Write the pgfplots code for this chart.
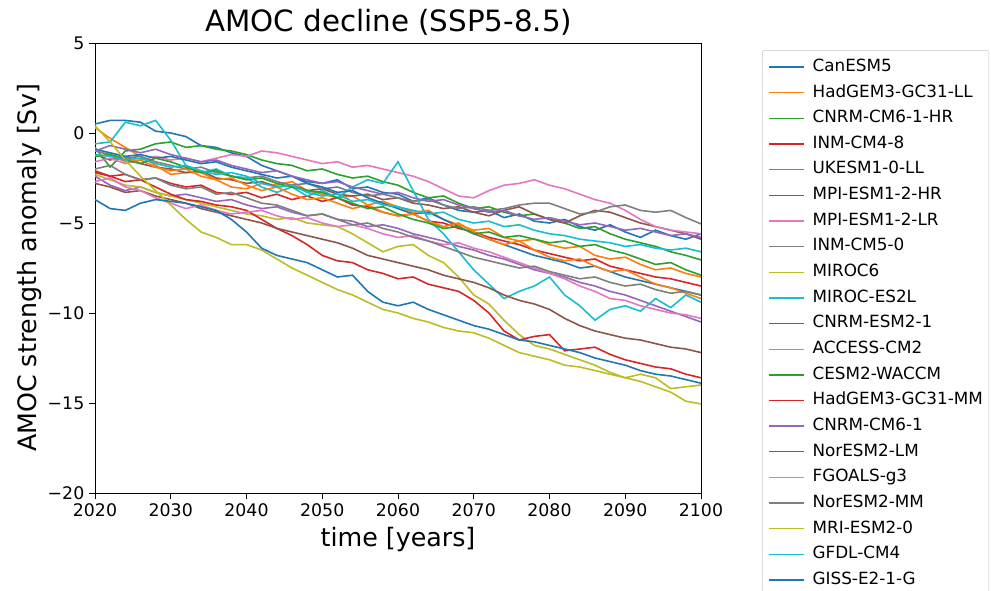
\documentclass[border=0pt]{standalone}
\usepackage{fontspec}
\setmainfont{DejaVu Sans}
\usepackage{pgfplots}
\usepackage{pgfplotstable}
\pgfplotsset{compat=1.18}
\definecolor{c0}{HTML}{1F77B4}
\definecolor{c1}{HTML}{FF7F0E}
\definecolor{c2}{HTML}{2CA02C}
\definecolor{c3}{HTML}{D62728}
\definecolor{c4}{HTML}{9467BD}
\definecolor{c5}{HTML}{8C564B}
\definecolor{c6}{HTML}{E377C2}
\definecolor{c7}{HTML}{7F7F7F}
\definecolor{c8}{HTML}{BCBD22}
\definecolor{c9}{HTML}{17BECF}
\pgfplotstableread{
year s1 s2 s3 s4 s5 s6 s7 s8 s9 s10 s11 s12 s13 s14 s15 s16 s17 s18 s19 s20 s21
2020 0.5 0.3 -0.8 -2.2 -2.4 -1.2 -1.6 -1.0 -2.3 -0.6 -0.9 -1.3 -1.3 -2.1 -1.0 -2.8 -2.7 -2.0 0.4 -1.2 -3.7
2022 0.7 -0.3 -1.9 -2.4 -2.9 -1.5 -1.4 -1.2 -2.6 -0.5 -1.1 -1.2 -1.2 -2.4 -0.7 -3.0 -2.5 -1.8 -0.5 -1.3 -4.2
2024 0.7 -0.8 -1.0 -2.3 -3.2 -1.3 -1.7 -1.4 -2.9 0.6 -1.3 -1.6 -1.5 -2.7 -0.9 -3.3 -3.0 -2.3 -1.5 -1.5 -4.3
2026 0.6 -1.3 -0.9 -2.6 -3.0 -1.7 -1.5 -1.3 -3.0 0.4 -1.2 -1.5 -1.7 -2.6 -1.1 -3.2 -3.2 -2.6 -2.4 -1.4 -3.9
2028 0.1 -1.8 -0.6 -2.5 -3.3 -1.9 -1.3 -1.6 -3.3 0.7 -1.4 -1.9 -1.4 -3.0 -0.9 -3.5 -3.6 -2.5 -3.2 -1.7 -3.7
2030 0.0 -2.3 -0.5 -2.8 -3.5 -2.0 -1.5 -1.8 -3.5 -0.4 -1.3 -2.1 -1.6 -3.4 -1.2 -3.7 -3.9 -2.9 -4.0 -1.9 -3.8
2032 -0.2 -2.2 -0.8 -3.0 -3.4 -2.2 -1.4 -2.0 -3.7 -1.8 -1.5 -2.0 -1.9 -3.7 -1.4 -3.9 -4.2 -3.1 -4.8 -1.8 -3.9
2034 -0.7 -2.2 -0.7 -2.9 -3.6 -2.1 -1.6 -1.9 -3.9 -2.2 -1.7 -2.4 -2.2 -3.8 -1.6 -4.2 -4.0 -3.0 -5.5 -2.1 -4.1
2036 -0.8 -2.6 -0.9 -3.3 -3.8 -2.5 -1.4 -2.2 -4.1 -2.0 -1.6 -2.6 -2.1 -4.0 -1.5 -4.4 -4.3 -3.4 -5.8 -2.3 -4.3
2038 -1.1 -3.0 -1.0 -3.4 -3.7 -2.6 -1.2 -2.4 -4.3 -2.4 -1.9 -2.5 -2.4 -4.1 -1.8 -4.6 -4.5 -3.3 -6.2 -2.2 -4.8
2040 -1.3 -3.1 -1.2 -3.3 -4.0 -2.8 -1.3 -2.5 -4.5 -2.5 -2.1 -2.9 -2.6 -4.3 -2.0 -4.8 -4.4 -3.6 -6.2 -2.4 -5.5
2042 -1.8 -2.8 -1.5 -3.6 -4.2 -2.7 -1.0 -2.4 -4.6 -3.0 -2.3 -3.2 -2.5 -4.8 -2.2 -5.0 -4.3 -3.9 -6.5 -2.8 -6.4
2044 -2.1 -2.9 -1.7 -3.4 -4.1 -3.0 -1.1 -2.7 -4.8 -3.3 -2.5 -3.0 -2.8 -5.3 -2.1 -5.3 -4.6 -4.0 -7.0 -3.0 -6.8
2046 -2.4 -2.7 -1.8 -3.7 -4.4 -2.9 -1.3 -2.9 -4.7 -3.0 -2.4 -3.4 -3.0 -5.7 -2.4 -5.5 -4.8 -4.3 -7.5 -2.9 -7.0
2048 -2.7 -3.2 -2.1 -3.5 -4.6 -3.2 -1.5 -2.8 -5.0 -3.5 -2.8 -3.7 -3.2 -6.2 -2.6 -5.7 -4.7 -4.6 -7.9 -3.3 -7.2
2050 -2.8 -3.4 -2.0 -3.8 -4.5 -3.1 -1.7 -3.1 -5.1 -3.2 -3.0 -3.6 -3.3 -6.8 -2.8 -5.9 -5.0 -4.5 -8.3 -3.5 -7.6
2052 -2.6 -3.6 -2.3 -3.6 -4.8 -3.4 -1.6 -3.0 -5.2 -3.6 -3.3 -3.9 -3.6 -7.1 -2.7 -6.1 -5.2 -4.8 -8.7 -3.4 -8.0
2054 -3.1 -3.5 -2.5 -4.0 -4.9 -3.5 -1.9 -3.3 -5.6 -3.0 -3.2 -4.2 -3.9 -7.2 -3.0 -6.4 -5.1 -5.1 -9.0 -3.8 -7.9
2056 -3.0 -4.0 -2.4 -4.1 -5.2 -3.4 -1.8 -3.5 -6.1 -2.6 -3.6 -4.0 -4.2 -7.6 -3.2 -6.8 -5.3 -5.0 -9.4 -3.7 -8.8
2058 -3.3 -3.8 -2.7 -4.4 -5.1 -3.7 -2.0 -3.4 -6.6 -2.8 -3.9 -4.4 -4.1 -7.8 -3.4 -7.0 -5.6 -5.3 -9.8 -4.0 -9.4
2060 -3.4 -4.1 -2.9 -4.6 -5.3 -3.6 -2.2 -3.6 -6.3 -1.6 -4.2 -4.6 -4.5 -8.1 -3.3 -7.2 -5.8 -5.5 -10.0 -4.1 -9.6
2062 -3.8 -4.4 -3.3 -4.5 -5.6 -3.9 -2.4 -3.8 -6.2 -3.2 -4.5 -4.5 -4.8 -8.0 -3.6 -7.4 -5.7 -5.8 -10.3 -4.3 -9.4
2064 -3.6 -4.3 -3.6 -4.9 -5.8 -4.0 -2.7 -3.7 -6.8 -4.8 -4.4 -4.9 -5.0 -8.4 -3.8 -7.6 -6.0 -6.0 -10.5 -4.5 -9.8
2066 -4.0 -4.8 -3.5 -5.0 -6.0 -4.2 -3.1 -4.0 -7.2 -5.6 -4.8 -5.2 -5.3 -8.6 -3.7 -7.9 -6.2 -6.3 -10.8 -4.4 -10.1
2068 -4.3 -5.1 -3.9 -5.3 -6.3 -4.1 -3.5 -4.2 -8.0 -6.6 -5.2 -5.0 -5.2 -8.8 -4.0 -8.1 -6.1 -6.6 -11.0 -4.8 -10.4
2070 -4.4 -5.4 -4.2 -5.5 -6.5 -4.4 -3.6 -4.1 -9.0 -7.6 -5.6 -5.5 -5.6 -9.3 -4.2 -8.3 -6.4 -6.9 -11.1 -5.0 -10.7
2072 -4.3 -5.3 -4.1 -5.8 -6.8 -4.6 -3.2 -4.3 -9.5 -8.4 -5.9 -5.9 -5.5 -10.0 -4.4 -8.6 -6.6 -7.1 -11.4 -4.9 -10.9
2074 -4.7 -5.8 -4.4 -6.0 -7.0 -4.3 -2.9 -4.2 -10.4 -9.2 -6.2 -6.2 -5.8 -11.0 -4.3 -9.0 -6.9 -7.3 -11.8 -5.2 -11.2
2076 -4.5 -6.0 -4.6 -6.2 -7.3 -4.1 -2.8 -4.0 -11.2 -8.8 -6.5 -6.0 -5.7 -11.5 -4.6 -9.3 -7.2 -7.5 -12.2 -5.1 -11.5
2078 -4.9 -5.9 -4.5 -6.5 -7.6 -4.5 -2.6 -3.9 -11.8 -8.5 -6.8 -6.5 -5.9 -11.3 -4.8 -9.5 -7.5 -7.4 -12.4 -5.4 -11.6
2080 -5.0 -6.2 -4.8 -6.7 -7.8 -4.8 -2.9 -3.9 -12.0 -8.0 -7.0 -6.9 -6.1 -11.2 -4.7 -9.8 -7.8 -7.7 -12.6 -5.6 -11.8
2082 -4.8 -6.4 -5.0 -6.9 -8.0 -5.0 -3.1 -4.2 -12.3 -9.0 -7.2 -7.1 -6.0 -12.1 -4.9 -10.3 -8.1 -7.9 -12.9 -5.7 -12.0
2084 -5.2 -6.3 -5.3 -7.1 -8.3 -4.6 -3.4 -4.5 -12.6 -9.6 -7.5 -7.0 -6.3 -12.0 -5.1 -10.7 -8.5 -8.1 -13.0 -5.9 -12.2
2086 -5.4 -6.8 -5.2 -7.0 -8.5 -4.3 -3.7 -4.4 -12.9 -10.4 -7.4 -7.4 -6.2 -11.9 -5.0 -11.0 -8.8 -8.0 -13.2 -6.0 -12.5
2088 -5.1 -7.0 -5.6 -7.4 -8.8 -4.4 -3.9 -4.1 -13.3 -9.8 -7.7 -7.7 -6.5 -12.3 -5.2 -11.2 -9.2 -8.3 -13.4 -6.1 -12.7
2090 -5.5 -6.9 -5.9 -7.6 -9.0 -4.7 -4.3 -4.0 -13.6 -9.6 -8.0 -7.6 -6.7 -12.6 -5.4 -11.4 -9.3 -8.5 -13.6 -6.3 -12.9
2092 -5.8 -7.3 -6.1 -7.8 -9.3 -5.0 -4.8 -4.3 -13.4 -9.9 -8.2 -8.0 -7.0 -12.8 -5.3 -11.5 -9.6 -8.4 -13.8 -6.2 -13.2
2094 -5.4 -7.6 -6.3 -8.0 -9.6 -5.2 -5.2 -4.4 -13.6 -9.2 -8.4 -8.4 -7.3 -13.0 -5.5 -11.7 -9.8 -8.7 -14.1 -6.4 -13.4
2096 -5.7 -7.5 -6.6 -8.1 -9.9 -5.4 -5.4 -4.3 -14.2 -9.7 -8.6 -8.6 -7.2 -13.1 -5.7 -11.9 -10.0 -8.9 -14.4 -6.5 -13.5
2098 -5.9 -7.8 -6.8 -8.3 -10.2 -5.6 -5.5 -4.7 -14.1 -9.0 -8.8 -8.9 -7.6 -13.4 -5.6 -12.0 -10.1 -8.8 -14.9 -6.4 -13.7
2100 -5.6 -8.0 -7.05 -8.5 -10.5 -5.9 -5.6 -5.05 -14.0 -9.4 -9.0 -9.2 -7.9 -13.6 -5.8 -12.2 -10.3 -9.0 -15.05 -6.6 -13.9
}\amoc
\begin{document}
\begin{tikzpicture}
\begin{axis}[
  at={(71.25pt,73.5pt)}, anchor=south west,
  scale only axis, width=454.5pt, height=337.5pt,
  xmin=2020, xmax=2100, ymin=-20, ymax=5,
  xtick={2020,2030,2040,2050,2060,2070,2080,2090,2100},
  xticklabels={2020,2030,2040,2050,2060,2070,2080,2090,2100},
  ytick={-20,-15,-10,-5,0,5},
  yticklabels={−20,−15,−10,−5,0,5},
  tick align=outside, xtick pos=left, ytick pos=left,
  major tick length=4.5pt,
  tick style={black, line width=0.6pt},
  axis line style={line width=0.6pt},
  ticklabel style={font=\fontsize{13}{15}\selectfont},
  title={AMOC decline (SSP5-8.5)},
  title style={font=\fontsize{22}{26}\selectfont, at={(0.5,1.029)}, anchor=center, xshift=-7pt},
  xlabel={time [years]},
  xlabel style={font=\fontsize{19}{22}\selectfont, at={(axis description cs:0.5,-0.1044)}, anchor=center},
  ylabel={AMOC strength anomaly [Sv]},
  ylabel style={font=\fontsize{19}{22}\selectfont, at={(axis description cs:-0.1073,0.5)}, anchor=center},
  legend style={at={(1.1007,0.9844)}, anchor=north west, draw=black!22, rounded corners=2pt,
    font=\fontsize{12.6}{15}\selectfont, inner xsep=4.5pt, inner ysep=6.3pt,
    row sep=6.74pt, column sep=6pt,
    nodes={inner sep=0pt, text height=9.5pt, text depth=3pt}},
  legend cell align=left,
  legend image code/.code={\draw[#1, line width=1pt] (0pt,0pt) -- (26.25pt,0pt);},
  every axis plot/.append style={line width=1.2pt},
]
\addplot[c0] table[x=year,y=s1] {\amoc}; \addlegendentry{CanESM5}
\addplot[c1] table[x=year,y=s2] {\amoc}; \addlegendentry{HadGEM3-GC31-LL}
\addplot[c2] table[x=year,y=s3] {\amoc}; \addlegendentry{CNRM-CM6-1-HR}
\addplot[c3] table[x=year,y=s4] {\amoc}; \addlegendentry{INM-CM4-8}
\addplot[c4] table[x=year,y=s5] {\amoc}; \addlegendentry{UKESM1-0-LL}
\addplot[c5] table[x=year,y=s6] {\amoc}; \addlegendentry{MPI-ESM1-2-HR}
\addplot[c6] table[x=year,y=s7] {\amoc}; \addlegendentry{MPI-ESM1-2-LR}
\addplot[c7] table[x=year,y=s8] {\amoc}; \addlegendentry{INM-CM5-0}
\addplot[c8] table[x=year,y=s9] {\amoc}; \addlegendentry{MIROC6}
\addplot[c9] table[x=year,y=s10] {\amoc}; \addlegendentry{MIROC-ES2L}
\addplot[c0] table[x=year,y=s11] {\amoc}; \addlegendentry{CNRM-ESM2-1}
\addplot[c1] table[x=year,y=s12] {\amoc}; \addlegendentry{ACCESS-CM2}
\addplot[c2] table[x=year,y=s13] {\amoc}; \addlegendentry{CESM2-WACCM}
\addplot[c3] table[x=year,y=s14] {\amoc}; \addlegendentry{HadGEM3-GC31-MM}
\addplot[c4] table[x=year,y=s15] {\amoc}; \addlegendentry{CNRM-CM6-1}
\addplot[c5] table[x=year,y=s16] {\amoc}; \addlegendentry{NorESM2-LM}
\addplot[c6] table[x=year,y=s17] {\amoc}; \addlegendentry{FGOALS-g3}
\addplot[c7] table[x=year,y=s18] {\amoc}; \addlegendentry{NorESM2-MM}
\addplot[c8] table[x=year,y=s19] {\amoc}; \addlegendentry{MRI-ESM2-0}
\addplot[c9] table[x=year,y=s20] {\amoc}; \addlegendentry{GFDL-CM4}
\addplot[c0] table[x=year,y=s21] {\amoc}; \addlegendentry{GISS-E2-1-G}
\end{axis}
\pgfresetboundingbox
\useasboundingbox (0,0) rectangle (743.25pt,443.25pt);
\end{tikzpicture}
\end{document}
